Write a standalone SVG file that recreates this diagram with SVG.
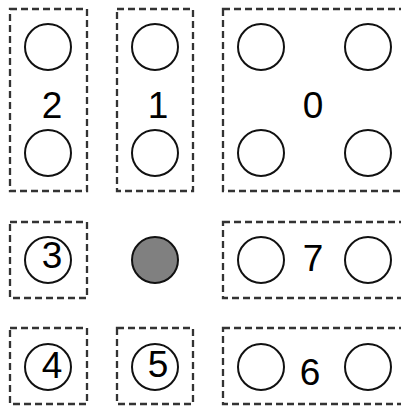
<svg xmlns="http://www.w3.org/2000/svg" width="401" height="408" viewBox="0 0 401 408">
<style>
.box{fill:none;stroke:#333;stroke-width:2.3;stroke-dasharray:7,4}
.c{fill:#fff;stroke:#111;stroke-width:2}
.g{fill:#808080;stroke:#111;stroke-width:2}
.t{font-family:"Liberation Sans",Arial,sans-serif;font-size:37px;fill:#000;text-anchor:middle}
</style>
<rect width="401" height="408" fill="#fff"/>
<g id="n2">
<rect class="box" x="10" y="9" width="77" height="182"/>
<circle class="c" cx="48" cy="47" r="23"/>
<circle class="c" cx="48" cy="153" r="23"/>
<text class="t" x="52" y="118">2</text>
</g>
<g id="n1">
<rect class="box" x="117" y="9" width="76" height="182"/>
<circle class="c" cx="155" cy="47" r="23"/>
<circle class="c" cx="155" cy="153" r="23"/>
<text class="t" x="158" y="118">1</text>
</g>
<g id="n0">
<rect class="box" x="223" y="9" width="190" height="182"/>
<circle class="c" cx="261" cy="47" r="23"/>
<circle class="c" cx="368" cy="47" r="23"/>
<circle class="c" cx="261" cy="153" r="23"/>
<circle class="c" cx="368" cy="153" r="23"/>
<text class="t" x="313" y="118">0</text>
</g>
<g id="n3">
<rect class="box" x="10" y="222" width="77" height="76"/>
<circle class="c" cx="48" cy="260" r="23"/>
<text class="t" x="52" y="268">3</text>
</g>
<g id="center">
<circle class="g" cx="155" cy="260" r="23"/>
</g>
<g id="n7">
<rect class="box" x="223" y="222" width="190" height="76"/>
<circle class="c" cx="261" cy="260" r="23"/>
<circle class="c" cx="368" cy="260" r="23"/>
<text class="t" x="313" y="271">7</text>
</g>
<g id="n4">
<rect class="box" x="10" y="328" width="77" height="76"/>
<circle class="c" cx="48" cy="367" r="23"/>
<text class="t" x="52" y="378">4</text>
</g>
<g id="n5">
<rect class="box" x="117" y="328" width="76" height="76"/>
<circle class="c" cx="155" cy="367" r="23"/>
<text class="t" x="158" y="377">5</text>
</g>
<g id="n6">
<rect class="box" x="223" y="328" width="190" height="76"/>
<circle class="c" cx="261" cy="367" r="23"/>
<circle class="c" cx="368" cy="367" r="23"/>
<text class="t" x="310" y="385">6</text>
</g>
<g id="connectors"></g>
</svg>
